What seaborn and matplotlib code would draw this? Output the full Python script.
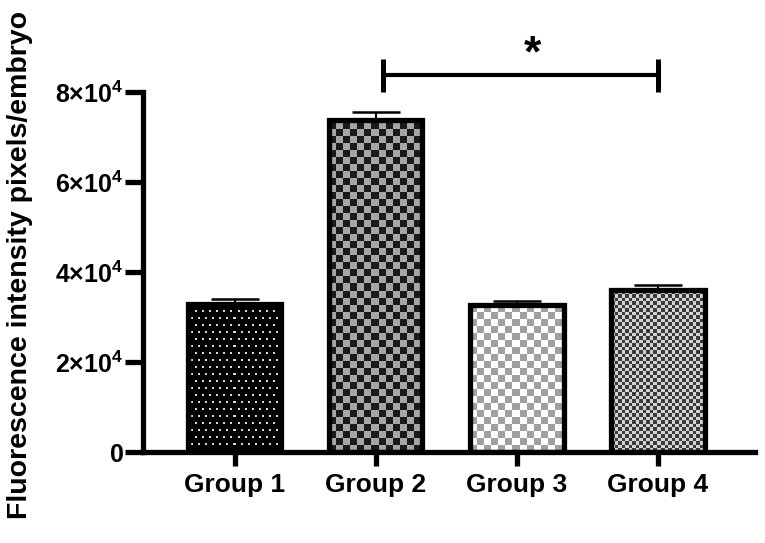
import numpy as np
import pandas as pd
import matplotlib
matplotlib.use('Agg')
import matplotlib.pyplot as plt
import seaborn as sns

# values
groups = ['Group 1', 'Group 2', 'Group 3', 'Group 4']
means = [33000, 73800, 32600, 35900]
sems = [1000, 1700, 1000, 1200]
sig_pair = ('Group 2', 'Group 4')
sig_label = '*'
yticks = [0, 20000, 40000, 60000, 80000]
ytick_labels = ['0', '2×10$^{4}$', '4×10$^{4}$', '6×10$^{4}$', '8×10$^{4}$']
ylabel = 'Fluorescence intensity pixels/embryo'


def checker(h, w, sq, c1, c2):
   r, c = np.indices((h, w))
   mask = (np.floor(r / sq) + np.floor(c / sq)) % 2 == 0
   img = np.empty((h, w, 3))
   img[mask] = matplotlib.colors.to_rgb(c1)
   img[~mask] = matplotlib.colors.to_rgb(c2)
   return img


def dots(h, w, period=7, bg='#000000', fg='#d8d8d8'):
   r, c = np.indices((h, w))
   off = np.where((r // period) % 2 == 0, 0, period // 2)
   mask = ((r % period) < 2) & (((c - off) % period) < 2)
   img = np.empty((h, w, 3))
   img[mask] = matplotlib.colors.to_rgb(fg)
   img[~mask] = matplotlib.colors.to_rgb(bg)
   return img


fills = [
   lambda h, w: dots(h, w),
   lambda h, w: checker(h, w, 7, '#1a1a1a', '#a6a6a6'),
   lambda h, w: checker(h, w, 7, '#a0a0a0', '#ffffff'),
   lambda h, w: checker(h, w, 3.5, '#3a3a3a', '#d2d2d2'),
]


def main():
   sns.set_style('ticks')
   plt.rcParams['font.family'] = ['Liberation Sans', 'DejaVu Sans']
   plt.rcParams['font.weight'] = 'bold'
   plt.rcParams['mathtext.fontset'] = 'custom'
   plt.rcParams['mathtext.rm'] = 'Liberation Sans:bold'
   plt.rcParams['mathtext.it'] = 'Liberation Sans:bold'
   plt.rcParams['mathtext.bf'] = 'Liberation Sans:bold'
   for key in ['axes.edgecolor', 'xtick.color', 'ytick.color', 'text.color',
               'axes.labelcolor']:
      plt.rcParams[key] = 'black'

   lw = 3.8
   fig = plt.figure(figsize=(7.65, 5.43), dpi=100)
   ax = fig.add_axes([143 / 765, 91 / 543, 612 / 765, 360 / 543])

   df = pd.DataFrame({'group': groups, 'mean': means, 'sem': sems})
   sns.barplot(df, x='group', y='mean', errorbar=None, width=0.66,
               color='white', edgecolor='black', linewidth=lw, ax=ax)

   ax.set_xlim(-0.652, 3.688)
   ax.set_ylim(0, 80000)

   patches = list(ax.patches)
   centers = []
   for patch, fill in zip(patches, fills):
      x0, y0 = patch.get_x(), patch.get_y()
      w, h = patch.get_width(), patch.get_height()
      centers.append(x0 + w / 2)
      (px0, py0), (px1, py1) = ax.transData.transform([(x0, y0), (x0 + w, y0 + h)])
      npx_w = max(int(round(px1 - px0)), 1)
      npx_h = max(int(round(py1 - py0)), 1)
      img = ax.imshow(fill(npx_h, npx_w), extent=(x0, x0 + w, y0, y0 + h),
                      origin='lower', aspect='auto', interpolation='nearest',
                      zorder=1.5)
      img.set_clip_path(patch)
      patch.set_facecolor('none')
      patch.set_zorder(2)

   # upper error bars only
   ax.errorbar(centers, means, yerr=[np.zeros(len(sems)), sems], fmt='none',
               ecolor='black', elinewidth=1.5, capsize=17, capthick=1.8,
               zorder=1.8)

   ax.set_xlim(-0.652, 3.688)
   ax.set_ylim(0, 80000)

   # significance bracket
   xa = centers[groups.index(sig_pair[0])] + 0.05
   xb = centers[groups.index(sig_pair[1])]
   yb = 83800
   ax.plot([xa, xb], [yb, yb], color='black', lw=3, clip_on=False,
           solid_capstyle='butt')
   for xx in (xa, xb):
      ax.plot([xx, xx], [80000, 87300], color='black', lw=3.6, clip_on=False,
              solid_capstyle='butt')
   ax.text(2.11, 88300, sig_label, ha='center', va='center', fontsize=32,
           fontweight='bold')

   ax.set_yticks(yticks)
   ax.set_yticklabels(ytick_labels)
   ax.set_xlabel('')
   ax.set_ylabel(ylabel, fontsize=20.5, fontweight='bold')
   ax.yaxis.set_label_coords(-0.18, 0.52)
   ax.tick_params(axis='x', length=10, width=lw, labelsize=19, pad=5)
   ax.tick_params(axis='y', length=13, width=lw, labelsize=18, pad=1)
   for lab in ax.get_xticklabels() + ax.get_yticklabels():
      lab.set_fontweight('bold')

   sns.despine(ax=ax)
   ax.spines['left'].set_linewidth(lw)
   ax.spines['bottom'].set_linewidth(lw)
   ax.spines['left'].set_capstyle('projecting')
   ax.spines['bottom'].set_capstyle('projecting')

   plt.savefig('out.png', dpi=100)


if __name__ == '__main__':
   main()
